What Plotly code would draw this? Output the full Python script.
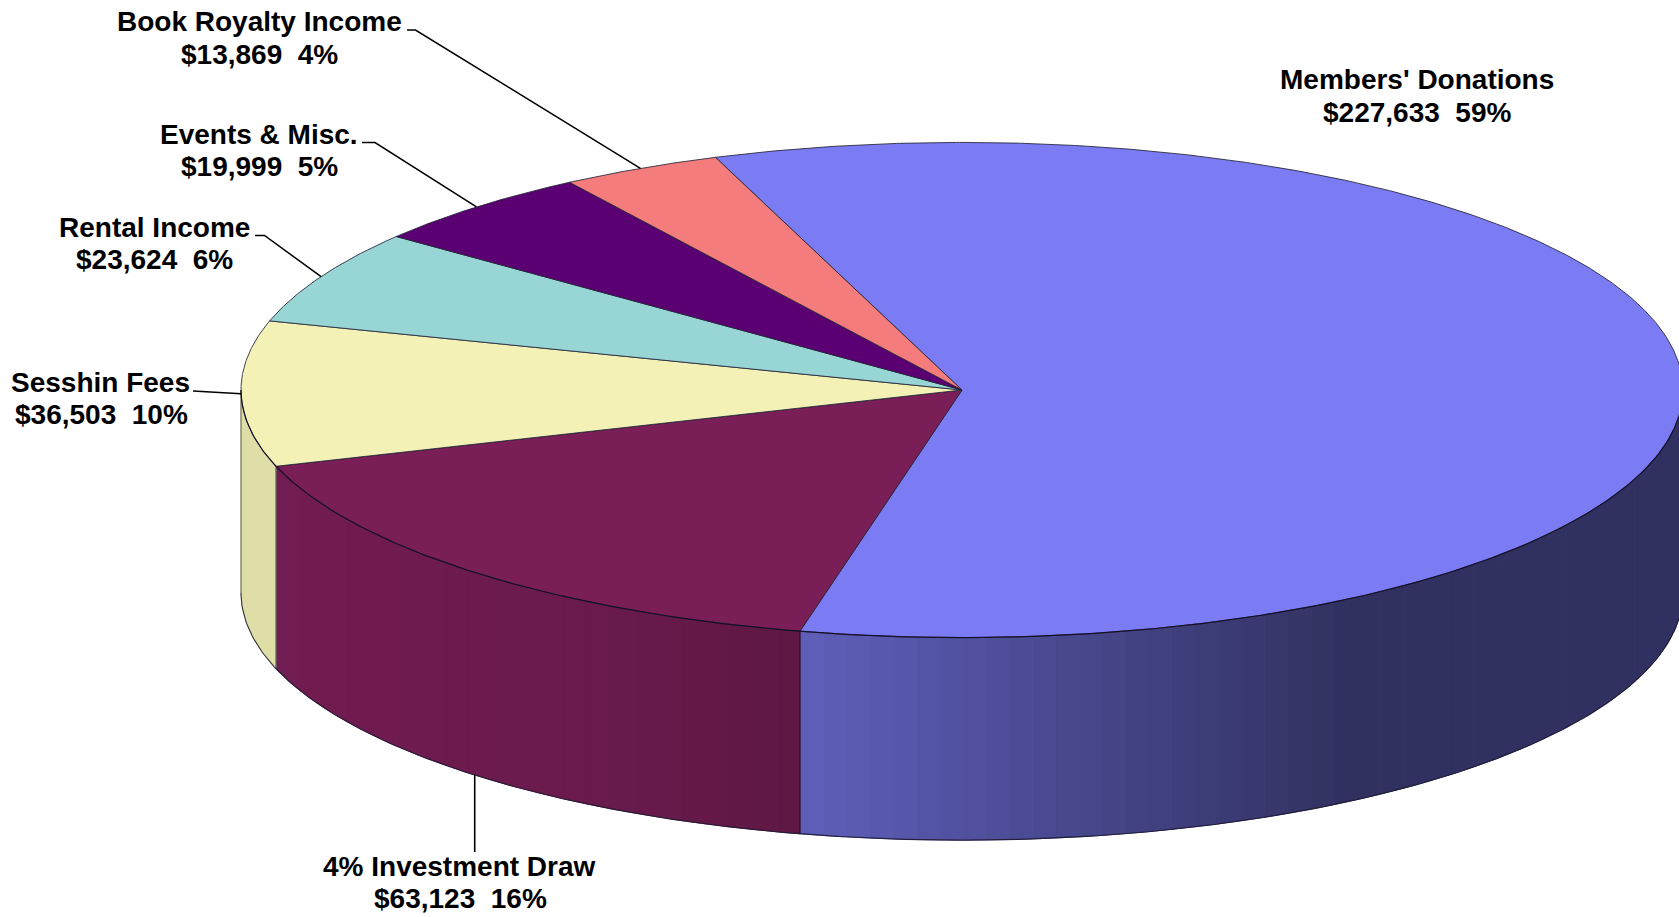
import numpy as np
import plotly.graph_objects as go

# Income by source, clockwise from the top of the disc
names = ["Members' Donations", "4% Investment Draw", "Sesshin Fees",
         "Rental Income", "Events & Misc.", "Book Royalty Income"]
amounts = [227633, 63123, 36503, 23624, 19999, 13869]
percents = [59, 16, 10, 6, 5, 4]
top_colors = [(123, 123, 243), (122, 30, 88), (243, 241, 181),
              (152, 214, 214), (90, 0, 115), (244, 124, 124)]

# Label centres (line 1 x, line 2 x, line 1 y, line 2 y) in the same order
label_x1 = [1417, 459.5, 100.5, 154, 259, 259]
label_x2 = [1417, 460.5, 101.5, 154, 259, 259.5]
label_y1 = [79, 866.5, 382, 227, 134, 21.5]
label_y2 = [112.5, 898.5, 414.5, 259.5, 166, 54.5]

WIDTH, HEIGHT = 1679, 917
CX, CY, RX, RY, DEPTH = 962.0, 390.0, 721.0, 247.6, 202.5
START_DEG = -20.0
BAND_PX = 23.0
FONT = "Liberation Sans"


def rim(theta_deg, drop=0.0):
    """Project a clockwise angle from the top onto the tilted disc."""
    t = np.radians(theta_deg)
    return CX + RX * np.sin(t), CY - RY * np.cos(t) + drop


def rgb(color, factor=1.0):
    return "rgb({},{},{})".format(*[int(round(c * factor)) for c in color])


def shade(x):
    """Light falls off from left to right across the wall."""
    return float(np.interp(x, [241, 276, 600, 800, 1340], [0.91, 0.93, 0.87, 0.77, 0.40]))


total = sum(amounts)
sweeps = [a / total * 360.0 for a in amounts]
edges = START_DEG + np.concatenate([[0.0], np.cumsum(sweeps)])

fig = go.Figure()


def polygon(xs, ys, fill, line_color, line_width):
    fig.add_trace(go.Scatter(
        x=list(xs), y=list(ys), mode="lines", fill="toself", fillcolor=fill,
        line=dict(color=line_color, width=line_width),
        hoverinfo="skip", showlegend=False,
    ))


def stroke(xs, ys, color, width):
    fig.add_trace(go.Scatter(
        x=list(xs), y=list(ys), mode="lines",
        line=dict(color=color, width=width),
        hoverinfo="skip", showlegend=False,
    ))


# Outer wall: only the front half (90 to 270 degrees) faces the viewer
for a0, a1, color in zip(edges[:-1], edges[1:], top_colors):
    lo, hi = max(a0, 90.0), min(a1, 270.0)
    if hi <= lo:
        continue
    x_lo, _ = rim(lo)
    x_hi, _ = rim(hi)
    bands = max(1, int(abs(x_hi - x_lo) / BAND_PX))
    band_x = np.linspace(x_lo, x_hi, bands + 1)
    angles = 180.0 - np.degrees(np.arcsin(np.clip((band_x - CX) / RX, -1, 1)))
    angles[angles < lo] = lo
    angles[0], angles[-1] = lo, hi
    for b0, b1, xa, xb in zip(angles[:-1], angles[1:], band_x[:-1], band_x[1:]):
        arc = np.linspace(b0, b1, 8)
        top_x, top_y = rim(arc)
        bot_x, bot_y = rim(arc[::-1], DEPTH)
        c = rgb(color, shade((xa + xb) / 2))
        polygon(np.r_[top_x, bot_x, top_x[0]], np.r_[top_y, bot_y, top_y[0]], c, c, 1)

# Lower rim and the wall's two visible seams and silhouette
low = np.linspace(90, 270, 300)
stroke(*rim(low, DEPTH), "rgba(30,25,50,0.9)", 1.1)
for seam in (edges[1], edges[2]):
    sx, sy = rim(seam)
    stroke([sx, sx], [sy, sy + DEPTH], "rgba(25,15,40,0.9)", 1)
lx, ly = rim(270.0)
stroke([lx, lx], [ly, ly + DEPTH], "rgba(60,60,50,0.8)", 1)

# Top face of the disc
for a0, a1, color in zip(edges[:-1], edges[1:], top_colors):
    arc = np.linspace(a0, a1, max(3, int((a1 - a0) * 4)))
    ax, ay = rim(arc)
    polygon(np.r_[CX, ax, CX], np.r_[CY, ay, CY], rgb(color),
            "rgba(35,35,55,0.85)", 1)

# The near edge of the top face reads darker against the wall
stroke(*rim(low), "rgba(20,15,40,0.95)", 1.2)

# Leader lines run from each slice's mid-angle on the rim to its label
leader_starts = {
    2: [(193, 391)],
    3: [(255, 235.5), (264.5, 235.5)],
    4: [(362, 142.5), (375, 142.5)],
    5: [(407, 30), (415.5, 30)],
}
for i, pts in leader_starts.items():
    tip = rim((edges[i] + edges[i + 1]) / 2)
    stroke([p[0] for p in pts] + [tip[0]], [p[1] for p in pts] + [tip[1]], "#000000", 1.5)
tip_x, tip_y = rim((edges[1] + edges[2]) / 2, DEPTH)
stroke([tip_x, tip_x], [tip_y, 852], "#000000", 1.6)

# Two-line labels; the lines are placed separately for their tight leading
for name, amount, pct, x1, x2, y1, y2 in zip(names, amounts, percents, label_x1, label_x2, label_y1, label_y2):
    for text, x, y in ((name, x1, y1), (f"${amount:,}\u00a0\u00a0{pct}%", x2, y2)):
        fig.add_annotation(
            x=x, y=y, text=f"<b>{text}</b>", showarrow=False,
            xanchor="center", yanchor="middle",
            font=dict(family=FONT, size=28, color="#000000"),
        )

fig.update_layout(
    width=WIDTH, height=HEIGHT, margin=dict(l=0, r=0, t=0, b=0),
    paper_bgcolor="#ffffff", plot_bgcolor="#ffffff", showlegend=False,
    xaxis=dict(range=[0, WIDTH], visible=False, fixedrange=True),
    yaxis=dict(range=[HEIGHT, 0], visible=False, fixedrange=True),
)
fig.write_html("out.html", config=dict(displayModeBar=False))
